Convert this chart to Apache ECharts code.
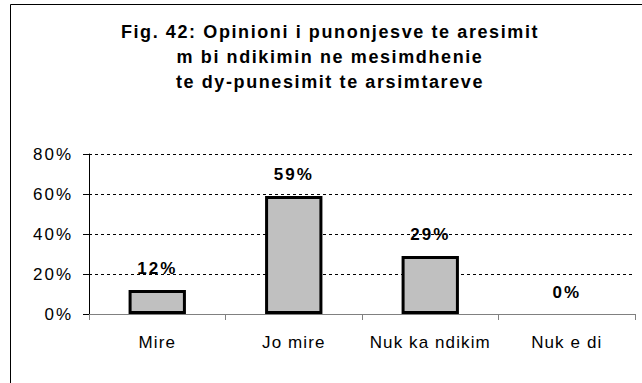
<!DOCTYPE html>
<html>
<head>
<meta charset="utf-8">
<script src="https://cdn.jsdelivr.net/npm/echarts@6/dist/echarts.min.js"></script>
<style>
  html, body { margin: 0; padding: 0; background: #fff; }
  #chart { width: 642px; height: 383px; }
</style>
</head>
<body>
<div id="chart"></div>
<script>
// Survey answers and their shares (percent)
const categories = ['Mire', 'Jo mire', 'Nuk ka ndikim', 'Nuk e di'];
const shares = [12, 59, 29, 0];
const yTicks = [0, 20, 40, 60, 80];

const titleLines = [
  'Fig. 42: Opinioni i punonjesve te aresimit',
  'm bi ndikimin ne mesimdhenie',
  'te dy-punesimit te arsimtareve'
];

const FONT = 'Liberation Sans, Arial, sans-serif';

const chart = echarts.init(document.getElementById('chart'), null, { renderer: 'svg' });

chart.setOption({
  animation: false,
  backgroundColor: '#ffffff',
  textStyle: { fontFamily: FONT },
  title: {
    text: titleLines.join('\n'),
    left: 325,
    top: 14,
    textAlign: 'center',
    textStyle: {
      fontSize: 18,
      fontWeight: 'bold',
      color: '#000',
      lineHeight: 25,
      fontFamily: FONT
    }
  },
  graphic: [{
    type: 'rect',
    shape: { x: 10.5, y: 4.5, width: 700, height: 450 },
    style: { fill: 'none', stroke: '#000', lineWidth: 1 },
    silent: true,
    z: 10
  }],
  grid: { left: 89, right: 7, top: 154, bottom: 69, containLabel: false },
  xAxis: {
    type: 'category',
    data: categories,
    axisLine: { show: true, lineStyle: { color: '#808080', width: 1 } },
    axisTick: { show: true, length: 6, lineStyle: { color: '#808080' } },
    axisLabel: { color: '#000', fontSize: 17, margin: 20, interval: 0 }
  },
  yAxis: {
    type: 'value',
    min: yTicks[0],
    max: yTicks[yTicks.length - 1],
    interval: 20,
    axisLine: { show: true, lineStyle: { color: '#000', width: 1 } },
    axisTick: { show: true, length: 6, lineStyle: { color: '#000' } },
    axisLabel: { color: '#000', fontSize: 17, margin: 16, formatter: v => v + '%' },
    splitLine: { show: true, lineStyle: { color: '#000', type: [3, 3], width: 1 } }
  },
  series: [{
    type: 'bar',
    // an empty share gets no outline, only its label
    data: shares.map(v => v === 0 ? { value: v, itemStyle: { borderWidth: 0 } } : v),
    barWidth: '42%',
    itemStyle: { color: '#c0c0c0', borderColor: '#000', borderWidth: 3 },
    label: {
      show: true,
      position: 'top',
      distance: 13,
      formatter: p => p.value + '%',
      color: '#000',
      fontSize: 17,
      fontWeight: 'bold'
    },
    z: 3
  }]
});

// widen the tracking of the chart texts a little
document.querySelectorAll('#chart svg text').forEach(t => {
  const style = (t.getAttribute('style') || '') + ' ' + (t.getAttribute('font-weight') || '');
  const bold = /bold/.test(style);
  const isPct = /%$/.test(t.textContent || '');
  let spacing = 1.1;
  if (bold) spacing = isPct ? 2 : 1.6;
  else if (isPct) spacing = 2;
  t.setAttribute('letter-spacing', spacing + 'px');
});
</script>
</body>
</html>
